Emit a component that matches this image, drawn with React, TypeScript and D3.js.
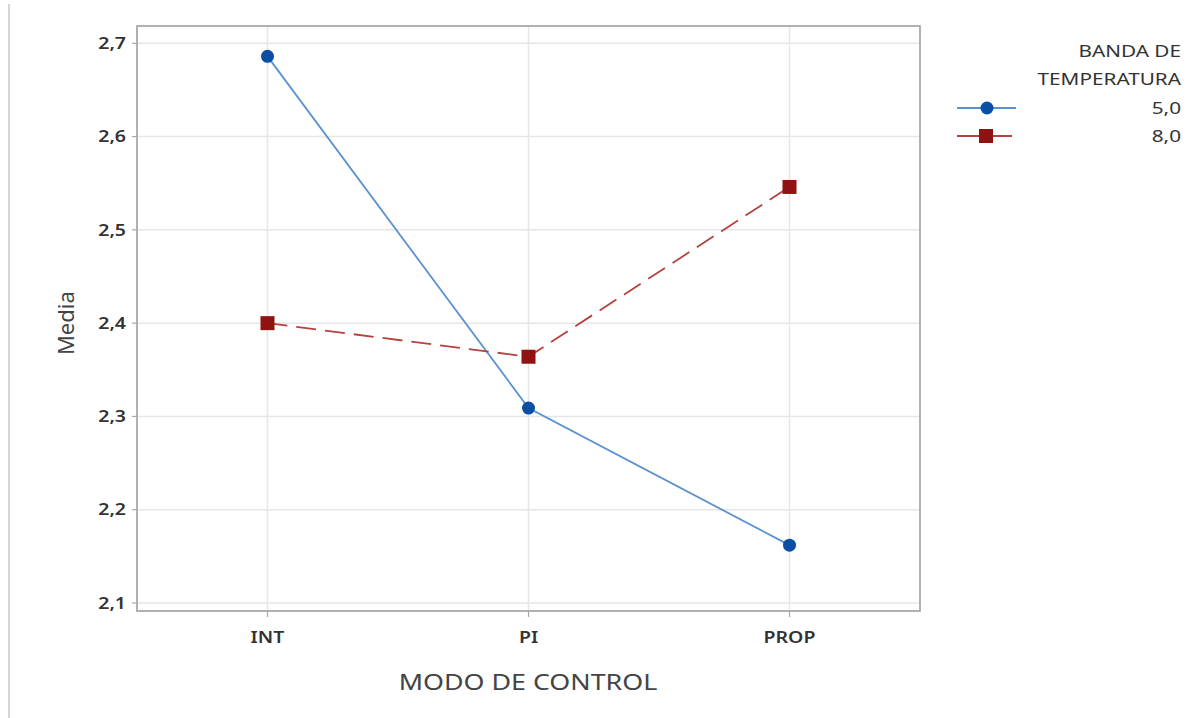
import React from "react";
import * as d3 from "d3";

const categories = ["INT", "PI", "PROP"];
const series50 = [2.686, 2.309, 2.162];
const series80 = [2.4, 2.364, 2.546];
const yTicks = [2.1, 2.2, 2.3, 2.4, 2.5, 2.6, 2.7];
const legendTitle = ["BANDA DE", "TEMPERATURA"];
const seriesNames = ["5,0", "8,0"];

const W = 1200;
const H = 718;
const left = 137, right = 920, top = 26, bottom = 611;
const FONT = "'Noto Sans', 'Open Sans', sans-serif";
const SX = 1.22;

export default function App() {
  const x = d3.scalePoint<string>().domain(categories).range([left, right]).padding(0.5);
  const y = d3.scaleLinear().domain([2.1 - 8 / 933.3, 2.7 + 17.3 / 933.3]).range([bottom, top]);
  const fmt = (v: number) => v.toFixed(1).replace(".", ",");
  const line = d3.line<number>().x((_, i) => x(categories[i])!).y((d) => y(d));
  const blueLine = "#5a92d0";
  const blueMark = "#0a4fa3";
  const redLine = "#b4423f";
  const redMark = "#8f1313";
  const tr = (px: number, py: number) => `translate(${px},${py}) scale(${SX},1)`;

  return (
    <svg width={W} height={H} style={{ position: "absolute", left: 0, top: 0, background: "#fff" }}>
      <rect x={0} y={0} width={W} height={H} fill="#fff" />
      <line x1={9} x2={9} y1={4} y2={H} stroke="#d6d6d6" strokeWidth={2} />
      {/* grid */}
      {yTicks.map((t) => (
        <line key={"gy" + t} x1={left} x2={right} y1={y(t)} y2={y(t)} stroke="#e6e6e6" strokeWidth={1.5} />
      ))}
      {categories.map((c) => (
        <line key={"gx" + c} x1={x(c)} x2={x(c)} y1={top} y2={bottom} stroke="#e6e6e6" strokeWidth={1.5} />
      ))}
      {/* frame */}
      <rect x={left} y={top} width={right - left} height={bottom - top} fill="none" stroke="#a9a9a9" strokeWidth={1.8} />
      {/* y ticks */}
      {yTicks.map((t) => (
        <g key={"yt" + t}>
          <line x1={left - 5} x2={left} y1={y(t)} y2={y(t)} stroke="#a9a9a9" strokeWidth={1.2} />
          <text transform={tr(126, y(t))} dy="0.36em" textAnchor="end" fontFamily={FONT} fontSize={16} fontWeight={600} fill="#333">
            {fmt(t)}
          </text>
        </g>
      ))}
      {/* x ticks */}
      {categories.map((c) => (
        <g key={"xt" + c}>
          <line x1={x(c)} x2={x(c)} y1={bottom} y2={bottom + 6} stroke="#a9a9a9" strokeWidth={1.2} />
          <text transform={tr(x(c)!, 643)} textAnchor="middle" fontFamily={FONT} fontSize={16} fontWeight={600} fill="#333">
            {c}
          </text>
        </g>
      ))}
      {/* axis titles */}
      <text transform={tr(528, 690)} textAnchor="middle" fontFamily={FONT} fontSize={22} fill="#444">
        MODO DE CONTROL
      </text>
      <text transform={`translate(74,${y(2.4)}) rotate(-90)`} textAnchor="middle" fontFamily={FONT} fontSize={22} fill="#444">
        Media
      </text>
      {/* series */}
      <path d={line(series50)!} fill="none" stroke={blueLine} strokeWidth={1.8} />
      <path d={line(series80)!} fill="none" stroke={redLine} strokeWidth={1.8} strokeDasharray="20,9" />
      {series50.map((v, i) => (
        <circle key={"c" + i} cx={x(categories[i])} cy={y(v)} r={6.5} fill={blueMark} />
      ))}
      {series80.map((v, i) => (
        <rect key={"s" + i} x={x(categories[i])! - 7} y={y(v) - 7} width={14} height={14} fill={redMark} />
      ))}
      {/* legend */}
      {legendTitle.map((t, i) => (
        <text key={"lt" + i} transform={tr(1181, 57 + i * 28)} textAnchor="end" fontFamily={FONT} fontSize={17} fill="#333">
          {t}
        </text>
      ))}
      <line x1={957} x2={1016} y1={108} y2={108} stroke={blueLine} strokeWidth={1.8} />
      <circle cx={987} cy={108} r={6.5} fill={blueMark} />
      <line x1={957} x2={1012} y1={136} y2={136} stroke={redLine} strokeWidth={1.8} />
      <rect x={979} y={129} width={14} height={14} fill={redMark} />
      {seriesNames.map((t, i) => (
        <text key={"ln" + i} transform={tr(1181, 108 + i * 28)} dy="0.36em" textAnchor="end" fontFamily={FONT} fontSize={17} fill="#333">
          {t}
        </text>
      ))}
    </svg>
  );
}
